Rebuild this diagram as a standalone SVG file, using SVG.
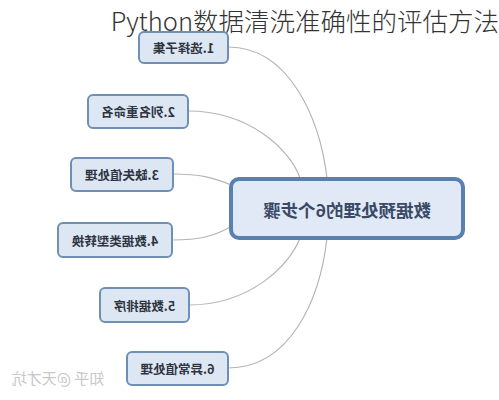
<svg xmlns="http://www.w3.org/2000/svg" width="499" height="400" viewBox="0 0 499 400">
<style>
.n rect{fill:#dde7f3;stroke:#6f8fb5;stroke-width:2}
.n text{font-family:"Noto Sans CJK SC","Noto Sans",sans-serif;font-size:12.5px;font-weight:bold;fill:#2e3440;text-anchor:middle;dominant-baseline:central}
.c path{fill:none;stroke:#b5b5b5;stroke-width:1.2}
</style>
<rect width="499" height="400" fill="#ffffff"/>
<text x="499" y="31" font-family="Noto Sans CJK SC,Noto Sans,sans-serif" font-size="25.5" font-weight="300" fill="#333" text-anchor="end">Python数据清洗准确性的评估方法</text>
<g class="c">
<path d="M228,47 C290,47 320,120 327,178"/>
<path d="M188,111 C250,111 290,150 300,178"/>
<path d="M173,174 C200,174 215,178 231,185"/>
<path d="M172,240 C200,240 215,236 232,226"/>
<path d="M189,305 C250,305 290,265 300,238"/>
<path d="M228,368 C290,368 320,300 327,238"/>
</g>
<g id="center" class="n">
<rect x="231" y="179" width="232" height="59" rx="8" style="stroke:#5a80b0;stroke-width:4;fill:#e0e9f5"/>
<text transform="translate(347,209) scale(-1,1)" style="font-size:17.5px;fill:#3a4a66">数据预处理的6个步骤</text>
</g>
<g id="n1" class="n"><rect x="139" y="32" width="89" height="31" rx="5"/><text transform="translate(183.5,47.5) scale(-1,1)">1.选择子集</text></g>
<g id="n2" class="n"><rect x="88" y="95" width="100" height="33" rx="5"/><text transform="translate(138,111.5) scale(-1,1)">2.列名重命名</text></g>
<g id="n3" class="n"><rect x="71" y="158" width="102" height="33" rx="5"/><text transform="translate(122,174.5) scale(-1,1)">3.缺失值处理</text></g>
<g id="n4" class="n"><rect x="58" y="223" width="114" height="34" rx="5"/><text transform="translate(115,240) scale(-1,1)">4.数据类型转换</text></g>
<g id="n5" class="n"><rect x="100" y="288" width="89" height="34" rx="5"/><text transform="translate(144.5,305) scale(-1,1)">5.数据排序</text></g>
<g id="n6" class="n"><rect x="127" y="352" width="101" height="33" rx="5"/><text transform="translate(177.5,368.5) scale(-1,1)">6.异常值处理</text></g>
<text transform="translate(58,384) scale(-1,1)" font-family="Noto Sans CJK SC,sans-serif" font-size="15" fill="#c8c8c8" text-anchor="middle">知乎 @天才坑</text>
</svg>
